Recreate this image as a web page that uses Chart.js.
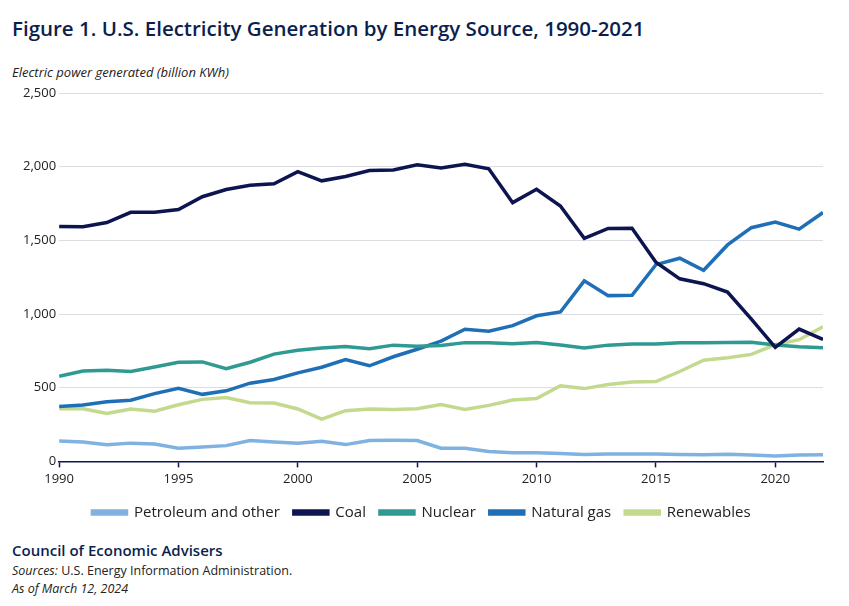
<!DOCTYPE html>
<html><head><meta charset="utf-8">
<script src="https://cdn.jsdelivr.net/npm/chart.js@4"></script>
<style>
body{margin:0;background:#fff;font-family:"Open Sans",sans-serif;width:849px;height:606px;position:relative;overflow:hidden}
#t{position:absolute;left:12px;top:14px;font-size:20.5px;font-weight:600;color:#0b1f4f}
#yt{position:absolute;left:12px;top:63px;font-size:13px;font-style:italic;color:#222}
#cw{position:absolute;left:0;top:80px;width:849px;height:450px}
#f1{position:absolute;left:12px;top:540px;font-size:15px;font-weight:600;color:#0b1f4f}
#f2{position:absolute;left:12px;top:562px;font-size:12.5px;color:#222;line-height:18px}
</style></head><body>
<div id="t">Figure 1. U.S. Electricity Generation by Energy Source, 1990-2021</div>
<div id="yt">Electric power generated (billion KWh)</div>
<div id="cw"><canvas id="c"></canvas></div>
<div id="f1">Council of Economic Advisers</div>
<div id="f2"><i>Sources:</i> U.S. Energy Information Administration.<br><i>As of March 12, 2024</i></div>
<script>
const years=[];for(let y=1990;y<=2022;y++)years.push(y);
const petroleum=[138,131,113,124,118,90,97,107,142,132,124,136,114,142,143,142,90,89,67,58,58,54,47,51,51,51,47,45,48,43,37,44,45];
const coal=[1594,1592,1621,1690,1690,1709,1796,1845,1874,1884,1966,1904,1933,1974,1978,2013,1991,2016,1986,1756,1847,1733,1514,1581,1582,1352,1239,1206,1149,965,774,898,828];
const nuclear=[577,613,619,610,640,673,675,629,673,728,754,769,780,764,789,782,787,806,806,799,807,790,769,789,797,797,806,805,807,809,790,778,772];
const gas=[373,382,404,415,460,496,455,479,531,556,601,639,691,649,710,761,816,897,883,921,988,1014,1225,1125,1127,1335,1379,1297,1469,1586,1624,1576,1689];
const renew=[357,357,326,356,340,384,421,433,398,396,356,287,344,355,353,358,386,353,380,417,427,513,494,522,538,542,610,687,703,726,792,826,913];
const mk=(l,d,c)=>({label:l,data:d.map((v,i)=>({x:years[i],y:v})),borderColor:c,backgroundColor:c,borderWidth:3.5,pointRadius:0,tension:0});
new Chart(document.getElementById('c'),{type:'line',data:{datasets:[
mk('Petroleum and other',petroleum,'#7fb2e0'),
mk('Coal',coal,'#0c1550'),
mk('Nuclear',nuclear,'#2e9a92'),
mk('Natural gas',gas,'#1f6fb6'),
mk('Renewables',renew,'#c3d98d')]},
options:{responsive:true,maintainAspectRatio:false,animation:false,
layout:{padding:{left:20,right:26,top:13,bottom:0}},
plugins:{legend:{position:'bottom',labels:{boxWidth:34,boxHeight:3,padding:14,color:'#222',font:{family:'Open Sans',size:15}}},tooltip:{enabled:false}},
scales:{x:{type:'linear',min:1990,max:2022,ticks:{stepSize:5,padding:4,color:'#222',font:{family:'Open Sans',size:13},maxRotation:0,callback:v=>String(v)},
 grid:{drawOnChartArea:false,drawTicks:true,tickColor:'#0c1550',tickLength:6,tickWidth:1.5},border:{color:'#0c1550',width:1.5},
 afterBuildTicks:a=>{a.ticks=[1990,1995,2000,2005,2010,2015,2020].map(v=>({value:v}))}},
y:{min:0,max:2500,ticks:{stepSize:500,color:'#222',font:{family:'Open Sans',size:13},callback:v=>v.toLocaleString('en-US')},
 grid:{color:'#dcdde2',drawTicks:false},border:{display:false}}}}});
</script></body></html>
